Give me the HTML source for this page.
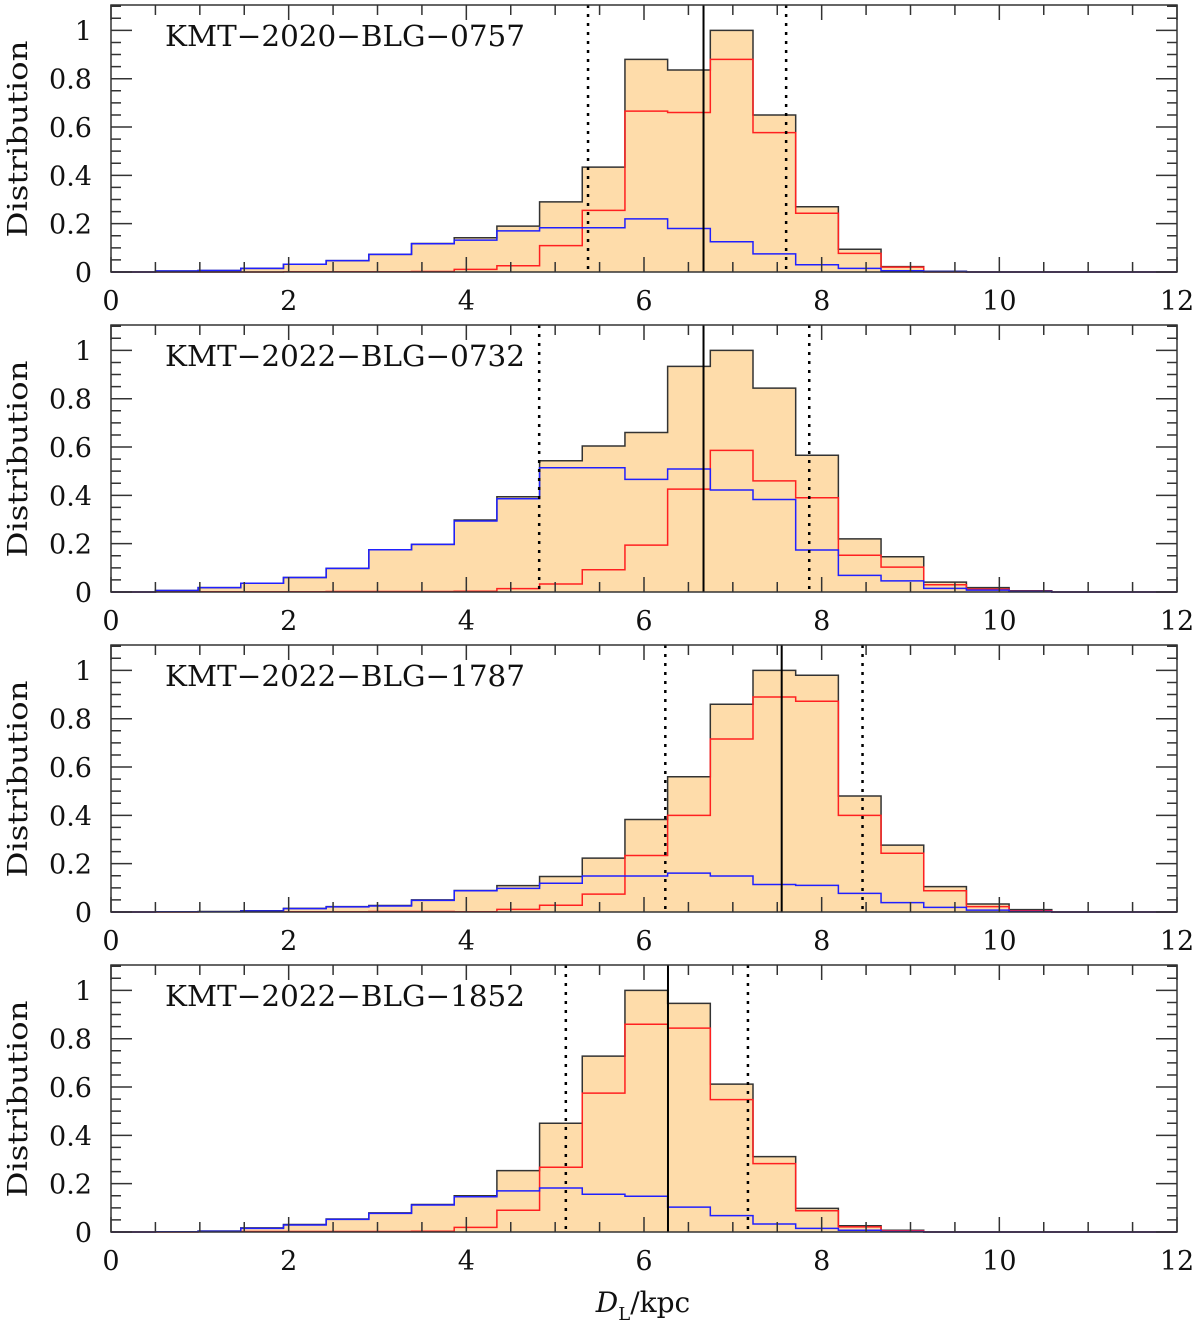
<!DOCTYPE html>
<html><head><meta charset="utf-8"><style>
html,body{margin:0;padding:0;background:#fff}
svg{display:block}
text{font-family:"DejaVu Serif","Liberation Serif",serif;fill:#111}
</style></head><body>
<svg id="chart" width="1200" height="1328" viewBox="0 0 1200 1328" xmlns="http://www.w3.org/2000/svg"></svg>
<script>
// ---- data ----
const binStart = 0.5;
const binWidth = 0.4805;
const eventNames = ["KMT\u22122020\u2212BLG\u22120757","KMT\u22122022\u2212BLG\u22120732","KMT\u22122022\u2212BLG\u22121787","KMT\u22122022\u2212BLG\u22121852"];
const totalP1 = [0.004,0.006,0.015,0.032,0.047,0.073,0.118,0.142,0.19,0.29,0.434,0.88,0.836,1.0,0.65,0.27,0.094,0.022,0.003];
const diskP1  = [0.004,0.006,0.015,0.032,0.047,0.073,0.117,0.132,0.17,0.183,0.183,0.22,0.18,0.125,0.075,0.03,0.015,0.005,0.002];
const bulgeP1 = [0,0,0,0.001,0.001,0.001,0.002,0.011,0.026,0.109,0.255,0.666,0.66,0.88,0.577,0.243,0.077,0.02,0];
const totalP2 = [0.006,0.018,0.036,0.06,0.098,0.175,0.197,0.298,0.394,0.543,0.604,0.66,0.934,1.0,0.844,0.566,0.22,0.146,0.041,0.018,0.005];
const diskP2  = [0.006,0.018,0.036,0.06,0.098,0.175,0.197,0.294,0.386,0.514,0.514,0.466,0.509,0.422,0.383,0.174,0.069,0.046,0.015,0.008,0.002];
const bulgeP2 = [0.001,0.001,0.001,0.001,0.002,0.002,0.002,0.003,0.014,0.033,0.092,0.194,0.426,0.586,0.46,0.39,0.152,0.103,0.03,0.012,0.003];
const totalP3 = [0.001,0.002,0.005,0.015,0.022,0.027,0.05,0.089,0.109,0.147,0.223,0.383,0.56,0.86,1.0,0.98,0.48,0.277,0.105,0.033,0.01];
const diskP3  = [0.001,0.001,0.004,0.014,0.021,0.025,0.048,0.088,0.098,0.119,0.149,0.149,0.161,0.149,0.114,0.11,0.077,0.039,0.019,0.008,0.002];
const bulgeP3 = [0,0.001,0.001,0.001,0.001,0.002,0.002,0.001,0.011,0.028,0.074,0.234,0.4,0.716,0.89,0.872,0.4,0.243,0.088,0.022,0.005];
const totalP4 = [0.001,0.004,0.017,0.031,0.054,0.079,0.114,0.15,0.254,0.45,0.728,1.0,0.946,0.612,0.312,0.098,0.026,0.007];
const diskP4  = [0.001,0.003,0.015,0.029,0.052,0.077,0.112,0.146,0.17,0.182,0.156,0.148,0.103,0.068,0.033,0.015,0.007,0.002];
const bulgeP4 = [0,0.001,0.002,0.002,0.002,0.002,0.003,0.019,0.09,0.268,0.575,0.86,0.844,0.548,0.283,0.088,0.021,0.005];
const medianValues = [6.67, 6.67, 7.55, 6.27];
const lowerValues = [5.37, 4.82, 6.24, 5.12];
const upperValues = [7.60, 7.86, 8.46, 7.17];
const xTickLabels = ["0","2","4","6","8","10","12"];
const yTickLabels = ["0","0.2","0.4","0.6","0.8","1"];

const totals=[totalP1,totalP2,totalP3,totalP4];
const disks=[diskP1,diskP2,diskP3,diskP4];
const bulges=[bulgeP1,bulgeP2,bulgeP3,bulgeP4];

const NS="http://www.w3.org/2000/svg";
const svg=document.getElementById('chart');
const L=111,R=1177,XMAX=12,YMAX=1.105;
function mk(tag,attrs,parent){const e=document.createElementNS(NS,tag);for(const k in attrs)e.setAttribute(k,attrs[k]);(parent||svg).appendChild(e);return e;}
function xs(v){return L+(R-L)*v/XMAX;}

for(let p=0;p<4;p++){
  const T=5+320*p,B=272+320*p;
  const ys=v=>B-(B-T)*v/YMAX;
  const g=mk('g',{});
  
  
  function stepPath(vals,close){
    let d='M'+xs(0)+','+ys(0)+' L'+xs(binStart)+','+ys(0);
    for(let i=0;i<vals.length;i++){
      const x0=xs(binStart+i*binWidth),x1=xs(binStart+(i+1)*binWidth);
      d+=' L'+x0+','+ys(vals[i])+' L'+x1+','+ys(vals[i]);
    }
    const xe=xs(binStart+vals.length*binWidth);
    d+=' L'+xe+','+ys(0);
    if(close) d+=' Z'; else d+=' L'+xs(XMAX)+','+ys(0);
    return d;
  }
  const fill=mk('path',{d:stepPath(totals[p],true),fill:'#fedcaa',stroke:'none'},g);
  
  
  const tot=mk('path',{d:stepPath(totals[p],false),fill:'none',stroke:'#333','stroke-width':1.5},g);
  
  
  const bl=mk('path',{d:stepPath(bulges[p],false),fill:'none',stroke:'#ff2020','stroke-width':1.5},g);
  
  
  const dk=mk('path',{d:stepPath(disks[p],false),fill:'none',stroke:'#2020ff','stroke-width':1.5},g);
  
  
  const med=mk('line',{x1:xs(medianValues[p]),x2:xs(medianValues[p]),y1:T,y2:B,stroke:'#000','stroke-width':2},g);
  
  
  [lowerValues[p],upperValues[p]].forEach(v=>{
    const ln=mk('line',{x1:xs(v),x2:xs(v),y1:T,y2:B,stroke:'#000','stroke-width':2.5,'stroke-dasharray':'3,6'},g);
    
    
  });
  let td='';
  for(let i=0;i<=24;i++){const x=xs(i*0.5);const len=(i%4===0)?15:10;td+=`M${x},${B}v${-len}M${x},${T}v${len}`;}
  for(let i=0;i<=22;i++){const y=ys(i*0.05);const len=(i%4===0)?21:10;td+=`M${L},${y}h${len}M${R},${y}h${-len}`;}
  const tk=mk('path',{d:td,stroke:'#333','stroke-width':1.5,fill:'none'},g);
  
  
  const fr=mk('rect',{x:L,y:T,width:R-L,height:B-T,fill:'none',stroke:'#333','stroke-width':1.5},g);
  
  
  xTickLabels.forEach((s,i)=>{
    const t=mk('text',{x:xs(i*2),y:B+38,'text-anchor':'middle','font-size':27},g);
    t.textContent=s;
    
    
  });
  yTickLabels.forEach((s,i)=>{
    const t=mk('text',{x:92,y:ys(i*0.2)+10,'text-anchor':'end','font-size':27},g);
    t.textContent=s;
    
    
  });
  const yt=mk('text',{x:0,y:0,'text-anchor':'middle','font-size':27,textLength:197,lengthAdjust:'spacingAndGlyphs',transform:`translate(27,${T+134}) rotate(-90)`},g);
  yt.textContent='Distribution';
  
  
  const tt=mk('text',{x:165,y:T+41,'font-size':29,textLength:360,lengthAdjust:'spacingAndGlyphs'},g);
  tt.textContent=eventNames[p];
  
  
}
const xl=mk('text',{x:643,y:1312,'text-anchor':'middle','font-size':28});
xl.innerHTML='<tspan font-style="italic">D</tspan><tspan font-size="18" dy="8">L</tspan><tspan dy="-8">/kpc</tspan>';


</script>
</body></html>
